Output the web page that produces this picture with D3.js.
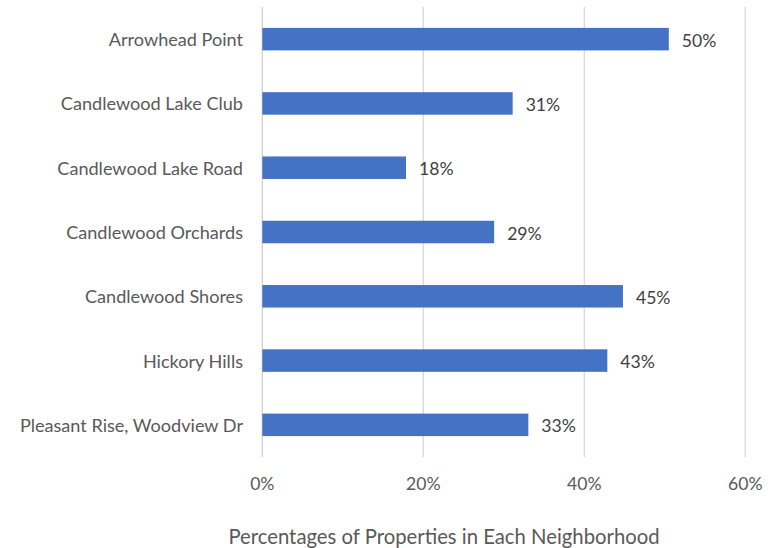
<!DOCTYPE html>
<html><head><meta charset="utf-8">
<script src="https://cdn.jsdelivr.net/npm/d3@7"></script>
<style>body{margin:0;background:#fff}svg{display:block}text{font-family:Lato,"Open Sans",sans-serif}</style>
</head><body>
<svg id="c" width="779" height="548"></svg>
<script>
const categories = ["Arrowhead Point","Candlewood Lake Club","Candlewood Lake Road","Candlewood Orchards","Candlewood Shores","Hickory Hills","Pleasant Rise, Woodview Dr"];
const values = [0.505, 0.311, 0.1785, 0.288, 0.448, 0.4286, 0.3305];
const valueLabels = ["50%","31%","18%","29%","45%","43%","33%"];
const xTicks = [0, 0.2, 0.4, 0.6];
const xTickLabels = ["0%","20%","40%","60%"];
const axisTitle = "Percentages of Properties in Each Neighborhood";

const svg = d3.select("#c");
const x = d3.scaleLinear().domain([0,0.6]).range([262.3,745.3]);
const y = d3.scaleBand().domain(categories).range([7,457]).paddingInner(0.65).paddingOuter(0.325);
const txt = "#595959";
const fs = 17.6;

svg.append("g").selectAll("line").data(xTicks).join("line")
  .attr("x1",d=>x(d)).attr("x2",d=>x(d)).attr("y1",7).attr("y2",457)
  .attr("stroke",d=>d===0?"#d0d0d0":"#d9d9d9").attr("stroke-width",1.3);

svg.append("g").selectAll("rect").data(categories).join("rect")
  .attr("x",x(0)).attr("y",d=>y(d)).attr("height",y.bandwidth())
  .attr("width",(d,i)=>x(values[i])-x(0)).attr("fill","#4472C4");

svg.append("g").selectAll("text").data(categories).join("text")
  .attr("x",243).attr("y",d=>y(d)+y.bandwidth()/2)
  .attr("text-anchor","end").attr("dominant-baseline","central")
  .attr("font-size",18.1).attr("fill",txt).text(d=>d);

svg.append("g").selectAll("text").data(categories).join("text")
  .attr("x",(d,i)=>x(values[i])+13).attr("y",d=>y(d)+y.bandwidth()/2+1)
  .attr("dominant-baseline","central")
  .attr("font-size",fs).attr("fill","#404040").text((d,i)=>valueLabels[i]);

svg.append("g").selectAll("text").data(xTicks).join("text")
  .attr("x",d=>x(d)).attr("y",483).attr("text-anchor","middle").attr("dominant-baseline","central")
  .attr("font-size",fs).attr("fill",txt).text((d,i)=>xTickLabels[i]);

svg.append("text").attr("x",444).attr("y",536).attr("text-anchor","middle").attr("dominant-baseline","central")
  .attr("font-size",20.3).attr("fill",txt).text(axisTitle);
</script>
</body></html>
